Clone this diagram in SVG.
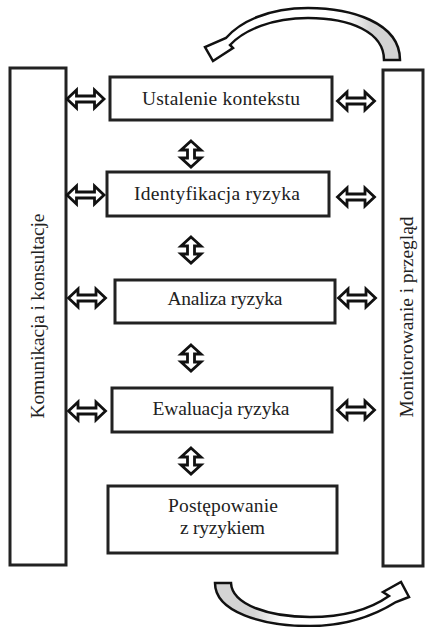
<svg xmlns="http://www.w3.org/2000/svg" width="427" height="627" viewBox="0 0 427 627">
<style>
.box{fill:#fff;stroke:#222;stroke-width:3}
.t{font-family:"Liberation Serif","Times New Roman",serif;font-size:19.5px;fill:#222;text-anchor:middle}
.arr{fill:#fff;stroke:#111;stroke-width:2.8;stroke-linejoin:miter}
.curve{stroke:#111;stroke-width:2.5;stroke-linejoin:miter}
</style>
<defs>
<path id="h" d="M -18.5 0 L -9 -9 L -9 -3 L 9 -3 L 9 -9 L 18.5 0 L 9 9 L 9 3 L -9 3 L -9 9 Z"/>
<path id="v" d="M 0 -13 L 10 -4 L 3.5 -4 L 3.5 4 L 10 4 L 0 13 L -10 4 L -3.5 4 L -3.5 -4 L -10 -4 Z"/>
<linearGradient id="gTop" x1="205" y1="0" x2="400" y2="0" gradientUnits="userSpaceOnUse">
<stop offset="0" stop-color="#fff"/><stop offset="0.72" stop-color="#fff"/><stop offset="0.85" stop-color="#d4d4d4"/><stop offset="1" stop-color="#d4d4d4"/>
</linearGradient>
<linearGradient id="gBot" x1="215" y1="0" x2="409" y2="0" gradientUnits="userSpaceOnUse">
<stop offset="0" stop-color="#d4d4d4"/><stop offset="0.2" stop-color="#d4d4d4"/><stop offset="0.35" stop-color="#fff"/><stop offset="1" stop-color="#fff"/>
</linearGradient>
</defs>

<g id="komunikacja">
<rect class="box" x="10" y="68" width="56" height="497"/>
<text class="t" transform="translate(44 316) rotate(-90)" x="0" y="0" textLength="205" lengthAdjust="spacing">Komunikacja i konsultacje</text>
</g>
<g id="monitorowanie">
<rect class="box" x="383" y="70" width="40" height="496"/>
<text class="t" transform="translate(413 317) rotate(-90)" x="0" y="0" textLength="201" lengthAdjust="spacing">Monitorowanie i przegląd</text>
</g>

<g id="ustalenie">
<rect class="box" x="110" y="77" width="222" height="43"/>
<text class="t" x="221" y="105" textLength="158" lengthAdjust="spacing">Ustalenie kontekstu</text>
</g>
<g id="identyfikacja">
<rect class="box" x="107" y="172" width="222" height="44"/>
<text class="t" x="217" y="200" textLength="166" lengthAdjust="spacing">Identyfikacja ryzyka</text>
</g>
<g id="analiza">
<rect class="box" x="115" y="280" width="220" height="43"/>
<text class="t" x="225" y="305" textLength="115" lengthAdjust="spacing">Analiza ryzyka</text>
</g>
<g id="ewaluacja">
<rect class="box" x="112" y="388" width="220" height="44"/>
<text class="t" x="221" y="415" textLength="137" lengthAdjust="spacing">Ewaluacja ryzyka</text>
</g>
<g id="postepowanie">
<rect class="box" x="108" y="486" width="229" height="67"/>
<text class="t" x="223" y="512" textLength="110" lengthAdjust="spacing">Postępowanie</text>
<text class="t" x="222.5" y="534" textLength="85" lengthAdjust="spacing">z ryzykiem</text>
</g>

<g id="connectors">
<use href="#h" class="arr" x="85.5" y="99"/>
<use href="#h" class="arr" x="85.5" y="195"/>
<use href="#h" class="arr" x="87" y="298"/>
<use href="#h" class="arr" x="87" y="411"/>
<use href="#h" class="arr" x="356" y="101"/>
<use href="#h" class="arr" x="356" y="197"/>
<use href="#h" class="arr" x="357" y="298"/>
<use href="#h" class="arr" x="356" y="410"/>
<use href="#v" class="arr" x="191" y="154"/>
<use href="#v" class="arr" x="191" y="250"/>
<use href="#v" class="arr" x="191" y="358"/>
<use href="#v" class="arr" x="191" y="461"/>
<path class="curve" fill="url(#gTop)" d="M 400 60 C 400 22, 350 8, 308 8 C 268 8, 240 22, 226 38 L 205 47 L 213 61 L 233 48 L 230 45 C 244 30, 272 18, 308 18 C 350 18, 384 32, 384 60 Z"/>
<path class="curve" fill="url(#gBot)" d="M 215 583 C 215 612, 262 626, 310 626 C 350 626, 380 612, 396 602 L 409 597 L 401 582 L 383 592 L 389 596 C 372 608, 345 617, 310 617 C 270 617, 232 605, 231 583 Z"/>
</g>
</svg>
